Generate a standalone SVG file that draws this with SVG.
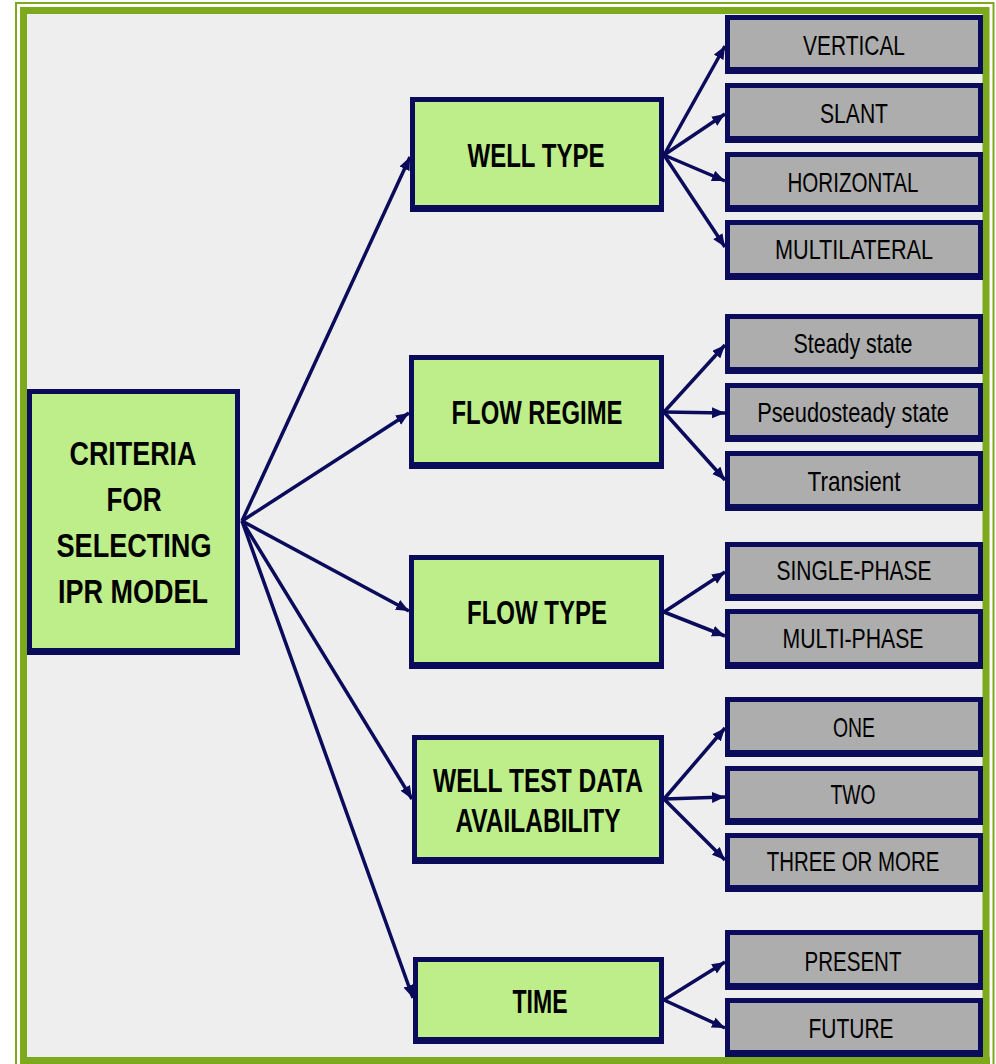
<svg xmlns="http://www.w3.org/2000/svg" width="996" height="1064" viewBox="0 0 996 1064">
<style>
.nv{fill:#0B0B5C}
.gf{fill:#BDEE8A}
.gy{fill:#ADADAD}
.tb{font-family:"Liberation Sans",Arial,sans-serif;font-weight:bold;font-size:34px;fill:#000;text-anchor:middle}
.tr{font-family:"Liberation Sans",Arial,sans-serif;font-size:28px;fill:#000;text-anchor:middle}
.cn{stroke:#0B0B5C;stroke-width:3.5;fill:none;marker-end:url(#ah)}
</style>
<defs>
<marker id="ah" markerUnits="userSpaceOnUse" markerWidth="15" markerHeight="12" refX="13" refY="5.5" orient="auto">
<path d="M0,0 L13,5.5 L0,11 Z" fill="#0B0B5C"/>
</marker>
</defs>
<rect x="0" y="0" width="996" height="1064" fill="#FFFFFF"/>
<rect x="16" y="3" width="977.5" height="1070" fill="none" stroke="#7DAA1C" stroke-width="2"/>
<rect x="23.5" y="10.5" width="962.5" height="1050" fill="#EEEEEE" stroke="#7DAA1C" stroke-width="7"/>

<g id="connectors">
<line class="cn" x1="242" y1="521" x2="410" y2="157"/>
<line class="cn" x1="242" y1="521" x2="409" y2="413"/>
<line class="cn" x1="242" y1="521" x2="409" y2="611"/>
<line class="cn" x1="242" y1="521" x2="412" y2="799"/>
<line class="cn" x1="242" y1="521" x2="413" y2="998"/>
<line class="cn" x1="664" y1="155" x2="725" y2="46"/>
<line class="cn" x1="664" y1="155" x2="725" y2="114"/>
<line class="cn" x1="664" y1="155" x2="725" y2="181"/>
<line class="cn" x1="664" y1="155" x2="725" y2="247"/>
<line class="cn" x1="664" y1="412" x2="725" y2="345"/>
<line class="cn" x1="664" y1="412" x2="725" y2="413"/>
<line class="cn" x1="664" y1="412" x2="725" y2="480"/>
<line class="cn" x1="664" y1="612" x2="725" y2="572"/>
<line class="cn" x1="664" y1="612" x2="725" y2="636"/>
<line class="cn" x1="664" y1="799" x2="725" y2="728"/>
<line class="cn" x1="664" y1="799" x2="725" y2="797"/>
<line class="cn" x1="664" y1="799" x2="725" y2="860"/>
<line class="cn" x1="664" y1="1000" x2="725" y2="962"/>
<line class="cn" x1="664" y1="1000" x2="725" y2="1028"/>
</g>

<g id="criteria">
<rect class="nv" x="27" y="389" width="213" height="266"/>
<rect class="gf" x="32" y="394" width="203" height="254"/>
<text class="tb" x="133" y="465" textLength="127" lengthAdjust="spacingAndGlyphs">CRITERIA</text>
<text class="tb" x="134" y="511" textLength="55" lengthAdjust="spacingAndGlyphs">FOR</text>
<text class="tb" x="134" y="557" textLength="155" lengthAdjust="spacingAndGlyphs">SELECTING</text>
<text class="tb" x="133" y="603" textLength="150" lengthAdjust="spacingAndGlyphs">IPR MODEL</text>
</g>

<g id="well-type">
<rect class="nv" x="410" y="97" width="254" height="115"/>
<rect class="gf" x="415" y="102" width="244" height="103"/>
<text class="tb" x="536" y="167" textLength="137" lengthAdjust="spacingAndGlyphs">WELL TYPE</text>
</g>
<g id="flow-regime">
<rect class="nv" x="409" y="355" width="255" height="114"/>
<rect class="gf" x="414" y="360" width="245" height="102"/>
<text class="tb" x="537" y="424" textLength="171" lengthAdjust="spacingAndGlyphs">FLOW REGIME</text>
</g>
<g id="flow-type">
<rect class="nv" x="409" y="555" width="255" height="114"/>
<rect class="gf" x="414" y="560" width="245" height="102"/>
<text class="tb" x="537" y="624" textLength="140" lengthAdjust="spacingAndGlyphs">FLOW TYPE</text>
</g>
<g id="well-test">
<rect class="nv" x="412" y="735" width="252" height="129"/>
<rect class="gf" x="417" y="740" width="242" height="117"/>
<text class="tb" x="538" y="792" textLength="210" lengthAdjust="spacingAndGlyphs">WELL TEST DATA</text>
<text class="tb" x="538" y="832" textLength="165" lengthAdjust="spacingAndGlyphs">AVAILABILITY</text>
</g>
<g id="time">
<rect class="nv" x="413" y="957" width="251" height="87"/>
<rect class="gf" x="418" y="962" width="241" height="75"/>
<text class="tb" x="540" y="1013" textLength="55" lengthAdjust="spacingAndGlyphs">TIME</text>
</g>

<g id="vertical">
<rect class="nv" x="725" y="15" width="258" height="59"/>
<rect class="gy" x="730" y="20" width="248" height="47"/>
<text class="tr" x="854" y="55" textLength="102" lengthAdjust="spacingAndGlyphs">VERTICAL</text>
</g>
<g id="slant">
<rect class="nv" x="725" y="83" width="258" height="60"/>
<rect class="gy" x="730" y="88" width="248" height="48"/>
<text class="tr" x="854" y="123" textLength="68" lengthAdjust="spacingAndGlyphs">SLANT</text>
</g>
<g id="horizontal">
<rect class="nv" x="725" y="152" width="258" height="60"/>
<rect class="gy" x="730" y="157" width="248" height="48"/>
<text class="tr" x="853" y="192" textLength="131" lengthAdjust="spacingAndGlyphs">HORIZONTAL</text>
</g>
<g id="multilateral">
<rect class="nv" x="725" y="220" width="258" height="60"/>
<rect class="gy" x="730" y="225" width="248" height="48"/>
<text class="tr" x="854" y="259" textLength="158" lengthAdjust="spacingAndGlyphs">MULTILATERAL</text>
</g>
<g id="steady">
<rect class="nv" x="725" y="314" width="258" height="60"/>
<rect class="gy" x="730" y="319" width="248" height="48"/>
<text class="tr" x="853" y="353" textLength="119" lengthAdjust="spacingAndGlyphs">Steady state</text>
</g>
<g id="pseudosteady">
<rect class="nv" x="725" y="383" width="258" height="59"/>
<rect class="gy" x="730" y="388" width="248" height="47"/>
<text class="tr" transform="translate(853,422) scale(0.78,1)" x="0" y="0">Pseudosteady state</text>
</g>
<g id="transient">
<rect class="nv" x="725" y="451" width="258" height="60"/>
<rect class="gy" x="730" y="456" width="248" height="48"/>
<text class="tr" x="854" y="491" textLength="93" lengthAdjust="spacingAndGlyphs">Transient</text>
</g>
<g id="single-phase">
<rect class="nv" x="725" y="542" width="258" height="59"/>
<rect class="gy" x="730" y="547" width="248" height="47"/>
<text class="tr" x="854" y="580" textLength="155" lengthAdjust="spacingAndGlyphs">SINGLE-PHASE</text>
</g>
<g id="multi-phase">
<rect class="nv" x="725" y="609" width="258" height="60"/>
<rect class="gy" x="730" y="614" width="248" height="48"/>
<text class="tr" x="853" y="648" textLength="141" lengthAdjust="spacingAndGlyphs">MULTI-PHASE</text>
</g>
<g id="one">
<rect class="nv" x="725" y="697" width="258" height="60"/>
<rect class="gy" x="730" y="702" width="248" height="48"/>
<text class="tr" x="854" y="737" textLength="42" lengthAdjust="spacingAndGlyphs">ONE</text>
</g>
<g id="two">
<rect class="nv" x="725" y="766" width="258" height="59"/>
<rect class="gy" x="730" y="771" width="248" height="47"/>
<text class="tr" x="853" y="804" textLength="45" lengthAdjust="spacingAndGlyphs">TWO</text>
</g>
<g id="three">
<rect class="nv" x="725" y="833" width="258" height="59"/>
<rect class="gy" x="730" y="838" width="248" height="47"/>
<text class="tr" transform="translate(853,871) scale(0.73,1)" x="0" y="0">THREE OR MORE</text>
</g>
<g id="present">
<rect class="nv" x="725" y="930" width="258" height="60"/>
<rect class="gy" x="730" y="935" width="248" height="48"/>
<text class="tr" x="853" y="971" textLength="97" lengthAdjust="spacingAndGlyphs">PRESENT</text>
</g>
<g id="future">
<rect class="nv" x="725" y="998" width="258" height="59"/>
<rect class="gy" x="730" y="1003" width="248" height="47"/>
<text class="tr" x="851" y="1038" textLength="85" lengthAdjust="spacingAndGlyphs">FUTURE</text>
</g>
<rect x="20" y="1057" width="970" height="7" fill="#7DAA1C"/>
</svg>
